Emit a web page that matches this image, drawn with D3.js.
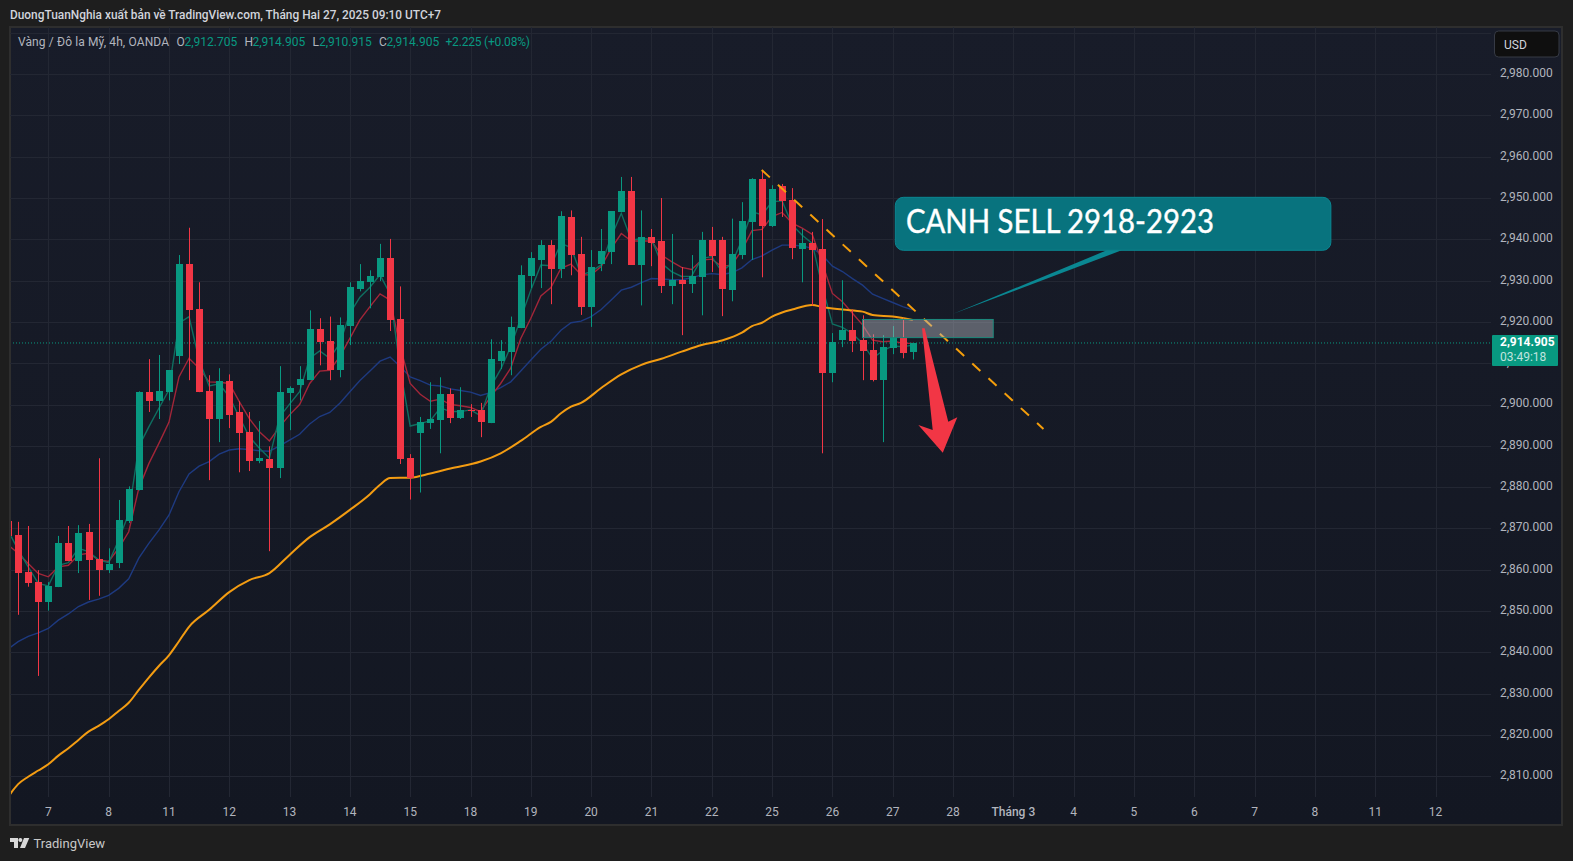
<!DOCTYPE html>
<html>
<head>
<meta charset="utf-8">
<title>XAUUSD 4h</title>
<script src="https://cdn.jsdelivr.net/npm/d3@7/dist/d3.min.js"></script>
<style>
  html, body { margin: 0; padding: 0; background: #1e1e1e; overflow: hidden; }
  text { font-family: Roboto, "Noto Sans", sans-serif; }
</style>
</head>
<body>
<script>
/* Candles, one entry per 4h bar */
const opens = [2871.8,2868.4,2859.4,2857.0,2852.3,2855.8,2866.5,2862.2,2869.1,2862.5,
  2859.9,2861.6,2871.8,2879.2,2903.0,2900.9,2903.0,2911.7,2934.0,2923.2,
  2903.2,2896.5,2905.6,2898.2,2893.3,2886.3,2886.8,2884.6,2902.7,2904.7,
  2905.9,2918.3,2915.3,2908.3,2919.0,2927.9,2929.6,2930.8,2935.4,2920.7,
  2887.0,2893.1,2895.5,2896.3,2902.5,2896.7,2898.8,2898.7,2895.5,2910.5,
  2912.7,2918.5,2931.1,2935.0,2938.6,2932.8,2945.3,2936.4,2923.7,2934.0,
  2936.9,2946.6,2951.7,2933.8,2940.6,2939.6,2928.7,2930.1,2929.1,2930.8,
  2939.8,2939.8,2927.7,2936.2,2944.2,2954.6,2943.2,2952.9,2949.5,2937.7,
  2939.1,2937.6,2907.6,2915.6,2918.0,2915.6,2913.2,2905.9,2913.6,2916.1,2912.705];
const highs = [2873.0,2871.6,2870.6,2859.9,2857.0,2868.2,2870.6,2870.8,2871.1,2887.0,
  2865.2,2876.9,2880.2,2903.2,2911.0,2912.0,2908.3,2936.2,2942.8,2929.6,
  2907.1,2908.8,2907.3,2900.8,2898.2,2896.0,2889.9,2909.3,2904.4,2909.3,
  2922.8,2920.9,2921.3,2921.1,2929.6,2934.0,2932.5,2938.9,2940.1,2928.6,
  2888.0,2897.0,2905.4,2906.6,2903.9,2904.2,2900.1,2900.4,2915.8,2915.6,
  2921.3,2933.7,2936.9,2939.8,2939.8,2946.8,2947.0,2940.6,2937.4,2942.5,
  2946.8,2955.1,2955.1,2947.0,2942.5,2950.0,2941.3,2933.3,2936.2,2941.8,
  2943.0,2940.6,2945.0,2949.0,2954.8,2956.8,2953.1,2953.4,2952.4,2942.5,
  2941.8,2944.9,2917.3,2930.1,2923.0,2921.6,2917.0,2916.8,2919.0,2920.9,2914.905];
const lows = [2866.5,2849.1,2855.9,2834.3,2850.1,2855.8,2862.1,2859.2,2852.7,2853.7,
  2859.2,2860.4,2871.3,2879.2,2898.2,2896.5,2901.0,2909.8,2905.9,2903.0,
  2881.7,2890.9,2894.3,2883.6,2883.9,2885.8,2864.5,2882.2,2893.8,2901.0,
  2905.9,2909.5,2905.9,2906.6,2914.4,2927.4,2923.3,2929.9,2917.8,2885.6,
  2877.0,2878.7,2894.1,2888.2,2895.5,2896.5,2897.0,2892.1,2895.5,2908.6,
  2907.1,2918.5,2928.2,2928.2,2924.3,2930.6,2931.3,2921.7,2918.8,2932.3,
  2934.0,2946.6,2933.8,2924.0,2933.5,2927.0,2924.3,2916.8,2927.0,2921.6,
  2932.1,2921.4,2925.0,2935.2,2935.0,2930.8,2943.0,2945.4,2935.2,2929.6,
  2924.0,2888.2,2905.4,2913.9,2912.7,2905.9,2905.6,2890.9,2912.2,2911.2,2910.915];
const closes = [2868.2,2859.3,2856.9,2852.3,2856.0,2866.5,2862.1,2868.9,2862.3,2859.9,
  2861.3,2872.0,2879.5,2903.0,2900.9,2903.2,2908.3,2934.0,2922.9,2903.0,
  2896.5,2905.6,2897.5,2893.1,2886.3,2887.0,2884.6,2903.0,2903.9,2906.1,
  2918.3,2915.1,2908.3,2919.3,2928.4,2929.9,2931.1,2935.4,2920.5,2886.8,
  2882.1,2895.8,2896.5,2902.5,2896.7,2898.7,2898.5,2895.8,2911.0,2912.9,
  2918.8,2931.3,2935.4,2938.6,2932.8,2945.6,2936.2,2923.7,2933.3,2937.2,
  2946.8,2951.7,2933.8,2940.6,2939.1,2928.7,2930.1,2929.1,2931.1,2939.8,
  2936.0,2927.9,2936.4,2944.5,2954.6,2943.2,2952.1,2949.2,2937.9,2939.1,
  2937.4,2907.6,2915.1,2918.0,2915.3,2912.9,2905.9,2913.9,2916.2,2912.4,2914.905];

const tealMa = [2869.5,2864.8,2860.7,2856.7,2856.1,2861.1,2861.7,2865.2,2864.4,2862.4,
  2861.7,2867.2,2873.6,2889.8,2894.6,2899.1,2903.5,2919.7,2921.3,2910.8,
  2904.5,2905.0,2901.9,2897.0,2892.2,2889.4,2887.0,2897.0,2900.1,2903.1,
  2911.2,2913.0,2911.2,2914.8,2922.1,2926.0,2928.4,2931.4,2926.8,2908.8,
  2894.8,2895.4,2896.1,2899.2,2898.3,2898.3,2898.7,2897.3,2904.3,2908.5,
  2914.0,2920.9,2927.7,2933.8,2933.6,2939.0,2938.0,2931.4,2932.2,2933.8,
  2940.6,2946.3,2939.8,2940.2,2940.0,2934.2,2932.2,2931.0,2931.1,2935.4,
  2935.8,2932.2,2934.2,2939.8,2946.7,2945.9,2949.1,2949.3,2943.5,2941.0,
  2939.0,2928.5,2919.5,2918.7,2917.2,2914.8,2911.2,2913.0,2914.2,2914.0,2914.4];
const redMa = [2866.0,2864.0,2861.5,2859.1,2858.3,2860.7,2861.1,2863.6,2864.0,2862.4,
  2862.0,2865.2,2869.2,2879.7,2885.7,2890.6,2895.7,2906.7,2911.2,2908.8,
  2905.5,2905.4,2905.1,2900.7,2896.6,2893.4,2891.2,2894.6,2897.5,2900.0,
  2905.1,2908.1,2908.3,2911.6,2916.0,2920.5,2923.7,2926.8,2925.3,2914.0,
  2905.1,2902.5,2900.8,2901.3,2900.0,2899.7,2899.3,2898.3,2901.9,2905.1,
  2908.8,2916.0,2920.9,2926.3,2928.3,2933.0,2934.0,2931.4,2931.4,2933.4,
  2937.8,2941.4,2939.6,2939.6,2939.6,2936.2,2934.6,2933.2,2932.7,2935.0,
  2935.2,2933.4,2933.8,2937.4,2942.1,2942.4,2945.5,2946.5,2943.9,2942.7,
  2941.2,2934.2,2926.9,2924.9,2922.1,2919.3,2915.6,2915.2,2915.4,2914.8,2914.8];
const blueMa = [2840.8,2842.6,2843.9,2844.7,2845.8,2847.8,2849.3,2851.1,2852.2,2852.9,
  2853.8,2855.5,2857.8,2862.8,2866.4,2869.6,2873.2,2878.9,2883.2,2885.1,
  2886.2,2888.0,2889.0,2889.3,2889.1,2888.8,2888.7,2890.0,2891.4,2892.8,
  2895.3,2897.1,2898.1,2900.3,2903.1,2905.8,2908.1,2910.5,2911.5,2909.2,
  2906.7,2905.8,2904.7,2904.5,2903.8,2903.4,2903.0,2902.2,2902.9,2904.1,
  2905.5,2908.1,2910.8,2913.4,2915.3,2918.0,2919.8,2920.2,2921.3,2923.0,
  2925.3,2927.7,2928.4,2929.5,2930.5,2930.4,2930.2,2930.2,2930.7,2931.4,
  2931.7,2931.5,2931.9,2933.1,2935.1,2936.0,2937.4,2938.6,2938.6,2938.4,
  2937.8,2936.2,2933.5,2932.2,2930.5,2928.9,2926.7,2925.7,2924.7,2923.7,2922.9];
/* Slow average, read at these bars */
const orangeBars = [0,1,2,3,4,5,6,7,8,9,10,11,12,13,14,15,16,17,18,20,22,24,26,28,30,32,34,36,37,38,40,42,44,47,49,51,53,54,55,56,57,
  59,61,63,65,67,69,71,73,74,75,76,77,78,80,81,83,85,86,88,90];
const orangeMa = [2805,2808.1,2809.9,2811.4,2812.9,2815,2816.8,2818.8,2820.8,2822.2,2823.8,2825.8,2827.8,2830.9,2833.9,2836.7,2839.3,2842.7,
  2846.2,2850.3,2854.6,2857.5,2859.2,2863.6,2867.9,2871,
  2874.5,2878.3,2880.6,2882.2,2882.3,2883.3,2884.5,2886.2,2888.2,2891.2,2894.6,2895.8,2897.9,2899.5,2900.4,
  2904,2907.3,2909.6,2911.1,2912.8,2914.4,2915.5,2917.4,2919,2919.8,2921.3,2922.3,2923,2924.1,2923.6,2923,2922.5,2921.7,2921.3,2920.5];

/* Axis labels */
const dayBars = [4,10,16,22,28,34,40,46,52,58,64,70,76,82,88,94,100,106,112,118,124,130,136,142];
const dayLabels = ["7","8","11","12","13","14","15","18","19","20","21","22","25","26","27","28","Tháng 3","4","5","6","7","8","11","12"];
const priceTicks = [2980,2970,2960,2950,2940,2930,2920,2910,2900,2890,2880,2870,2860,2850,2840,2830,2820,2810];

/* Last bar */
const lastPrice = 2914.905;
const countdown = "03:49:18";

/* Chart drawings, in bar / price */
const trendBars = [74.97, 103];
const trendPrices = [2956.8, 2894.1];
const zoneBars = [85, 98];
const zonePrices = [2920.6, 2916.2];
const arrowBars = [90.92,91.18,93.53,94.43,92.98,90.55,91.98];
const arrowPrices = [2918.45,2918.45,2895.84,2896.9,2888.33,2895.04,2893.83];
const calloutBars = [88.26, 131.59];
const calloutPrices = [2950.17, 2937.34];
const tailBars = [109.29, 110.78, 93.97];
const tailPrices = [2937.34, 2937.34, 2921.9];

/* Constants */
const w = 1573, h = 861;
const paneLeft = 10, paneTop = 27, paneRight = 1562, paneBottom = 825;
const plotRight = 1491, plotBottom = 797;
const green = "#089981", red = "#f23645", axisText = "#b2b5be", gridColor = "#232733";

const svg = d3.select("body").append("svg")
  .attr("width", w).attr("height", h)
  .style("display", "block");

const defs = svg.append("defs");
const grad = defs.append("linearGradient")
  .attr("id", "paneBg").attr("x1", 0).attr("y1", 0).attr("x2", 0).attr("y2", 1);
grad.append("stop").attr("offset", "0%").attr("stop-color", "#181c29");
grad.append("stop").attr("offset", "100%").attr("stop-color", "#131722");
defs.append("clipPath").attr("id", "plotClip").append("rect")
  .attr("x", paneLeft + 1).attr("y", paneTop).attr("width", plotRight - paneLeft - 1).attr("height", plotBottom - paneTop);

/* Pane */
svg.append("rect")
  .attr("x", paneLeft).attr("y", paneTop)
  .attr("width", paneRight - paneLeft).attr("height", paneBottom - paneTop)
  .attr("fill", "url(#paneBg)")
  .attr("stroke", "#2e2e2e").attr("stroke-width", 2);

/* Scales */
const xScale = d3.scaleLinear().domain([0, 90]).range([8.1, 912.8]);
const yScale = d3.scaleLinear().domain([2980, 2810]).range([74.1, 776.3]);

/* Grid */
svg.append("g")
  .attr("transform", "translate(0," + plotBottom + ")")
  .call(d3.axisBottom(xScale).tickValues(dayBars).tickSize(-(plotBottom - paneTop)).tickFormat(""))
  .call(g => g.select(".domain").remove())
  .call(g => g.selectAll("line").attr("stroke", gridColor).attr("shape-rendering", "crispEdges"));

svg.append("g")
  .attr("transform", "translate(" + plotRight + ",0)")
  .call(d3.axisLeft(yScale).tickValues([2990].concat(priceTicks)).tickSize(plotRight - paneLeft).tickFormat(""))
  .call(g => g.select(".domain").remove())
  .call(g => g.selectAll("line").attr("stroke", gridColor).attr("shape-rendering", "crispEdges"));

/* Axes */
svg.append("g")
  .attr("transform", "translate(-0.5," + plotBottom + ")")
  .call(d3.axisBottom(xScale).tickValues(dayBars).tickSize(0).tickPadding(10)
    .tickFormat(d => dayLabels[dayBars.indexOf(d)]))
  .call(g => g.select(".domain").remove())
  .call(g => g.selectAll("text")
    .attr("fill", axisText).attr("font-size", 12)
    .style("font-family", "Roboto, sans-serif")
    .attr("font-weight", d => d === 100 ? 500 : 400));

svg.append("g")
  .attr("transform", "translate(1500,0)")
  .call(d3.axisRight(yScale).tickValues(priceTicks).tickSize(0).tickPadding(0)
    .tickFormat(d3.format(",.3f")))
  .call(g => g.select(".domain").remove())
  .call(g => g.selectAll("text")
    .attr("fill", axisText).attr("font-size", 12).attr("dy", "0.2em")
    .style("font-family", "Roboto, sans-serif"));

const plot = svg.append("g").attr("clip-path", "url(#plotClip)");

/* Last price line */
plot.append("line")
  .attr("x1", paneLeft).attr("x2", plotRight)
  .attr("y1", yScale(lastPrice)).attr("y2", yScale(lastPrice))
  .attr("stroke", green).attr("stroke-width", 1).attr("stroke-dasharray", "1 2");

/* Moving averages */
const maLine = d3.line().x(d => xScale(d[0])).y(d => yScale(d[1]));
const slowLine = d3.line().x(d => xScale(d[0])).y(d => yScale(d[1])).curve(d3.curveMonotoneX);
const byBar = arr => arr.map((v, i) => [i, v]);

plot.append("path").datum(byBar(blueMa)).attr("d", maLine)
  .attr("fill", "none").attr("stroke", "#1e3a80").attr("stroke-width", 1.4);
plot.append("path").datum(byBar(redMa)).attr("d", maLine)
  .attr("fill", "none").attr("stroke", "#a32639").attr("stroke-width", 1.4);
plot.append("path").datum(byBar(tealMa)).attr("d", maLine)
  .attr("fill", "none").attr("stroke", "#0f6e60").attr("stroke-width", 1.4);
plot.append("path").datum(orangeBars.map((b, i) => [b, orangeMa[i]])).attr("d", slowLine)
  .attr("fill", "none").attr("stroke", "#f39c12").attr("stroke-width", 2);

/* Candles */
const bars = d3.range(opens.length);
const barColor = i => closes[i] >= opens[i] ? green : red;

plot.selectAll(".wick").data(bars).enter().append("line")
  .attr("class", "wick")
  .attr("x1", i => Math.round(xScale(i)) + 0.5).attr("x2", i => Math.round(xScale(i)) + 0.5)
  .attr("y1", i => yScale(highs[i])).attr("y2", i => yScale(lows[i]))
  .attr("stroke", barColor).attr("stroke-width", 1);

plot.selectAll(".body").data(bars).enter().append("rect")
  .attr("class", "body")
  .attr("x", i => Math.round(xScale(i)) - 3).attr("width", 7)
  .attr("y", i => yScale(Math.max(opens[i], closes[i])))
  .attr("height", i => Math.max(1, Math.abs(yScale(opens[i]) - yScale(closes[i]))))
  .attr("fill", barColor)
  .attr("shape-rendering", "crispEdges");

/* Trend line */
plot.append("line")
  .attr("x1", xScale(trendBars[0])).attr("y1", yScale(trendPrices[0]))
  .attr("x2", xScale(trendBars[1])).attr("y2", yScale(trendPrices[1]))
  .attr("stroke", "#f59e0b").attr("stroke-width", 2).attr("stroke-dasharray", "11 11");

/* Sell zone */
plot.append("rect")
  .attr("x", xScale(zoneBars[0])).attr("width", xScale(zoneBars[1]) - xScale(zoneBars[0]))
  .attr("y", yScale(zonePrices[0])).attr("height", yScale(zonePrices[1]) - yScale(zonePrices[0]))
  .attr("fill", "rgba(178,181,190,0.45)")
  .attr("stroke", "#1c8a7d").attr("stroke-width", 1);

/* Arrow */
plot.append("polygon")
  .attr("points", arrowBars.map((b, i) => xScale(b) + "," + yScale(arrowPrices[i])).join(" "))
  .attr("fill", red);

/* Callout */
plot.append("polygon")
  .attr("points", tailBars.map((b, i) => xScale(b) + "," + yScale(tailPrices[i])).join(" "))
  .attr("fill", "#0a8792");
plot.append("rect")
  .attr("x", xScale(calloutBars[0])).attr("width", xScale(calloutBars[1]) - xScale(calloutBars[0]))
  .attr("y", yScale(calloutPrices[0])).attr("height", yScale(calloutPrices[1]) - yScale(calloutPrices[0]))
  .attr("rx", 8)
  .attr("fill", "#08737e").attr("stroke", "#0a8792").attr("stroke-width", 1);
plot.append("text")
  .attr("x", xScale(89.32)).attr("y", yScale(2941.6))
  .attr("fill", "#ffffff").attr("stroke", "#ffffff").attr("stroke-width", 0.4).attr("font-size", 32)
  .attr("textLength", 308).attr("lengthAdjust", "spacingAndGlyphs")
  .style("font-family", "Lato, sans-serif")
  .text("CANH SELL 2918-2923");

/* Header and legend */
svg.append("text").attr("x", 10).attr("y", 19)
  .attr("fill", "#d1d4dc").attr("font-size", 12).attr("font-weight", 500)
  .attr("textLength", 431).attr("lengthAdjust", "spacingAndGlyphs")
  .text("DuongTuanNghia xuất bản về TradingView.com, Tháng Hai 27, 2025 09:10 UTC+7");

const legendParts = [
  { x: 18, t: "Vàng / Đô la Mỹ, 4h, OANDA", c: axisText, len: 151 },
  { x: 176.5, t: "O", c: axisText }, { x: 184.5, t: "2,912.705", c: green },
  { x: 244.5, t: "H", c: axisText }, { x: 252.5, t: "2,914.905", c: green },
  { x: 312.5, t: "L", c: axisText }, { x: 319, t: "2,910.915", c: green },
  { x: 379, t: "C", c: axisText }, { x: 386.5, t: "2,914.905", c: green },
  { x: 445.5, t: "+2.225 (+0.08%)", c: green, len: 84.5 }
];
svg.selectAll(".legend").data(legendParts).enter().append("text")
  .attr("class", "legend")
  .attr("x", d => d.x).attr("y", 46)
  .attr("fill", d => d.c).attr("font-size", 12)
  .attr("textLength", d => d.len || null)
  .text(d => d.t);

/* USD button */
svg.append("rect").attr("x", 1494.5).attr("y", 31).attr("width", 64.5).attr("height", 26).attr("rx", 4)
  .attr("fill", "#0f0f0f").attr("stroke", "#363a45");
svg.append("text").attr("x", 1504).attr("y", 48.5)
  .attr("fill", "#d1d4dc").attr("font-size", 12).text("USD");

/* Last price label */
svg.append("rect").attr("x", 1492).attr("y", yScale(lastPrice) - 8).attr("width", 66).attr("height", 31).attr("rx", 1)
  .attr("fill", green);
svg.append("text").attr("x", 1500).attr("y", yScale(lastPrice) + 3.5)
  .attr("fill", "#ffffff").attr("font-size", 12).attr("font-weight", 700).text(d3.format(",.3f")(lastPrice));
svg.append("text").attr("x", 1500).attr("y", yScale(lastPrice) + 18)
  .attr("fill", "rgba(255,255,255,0.75)").attr("font-size", 12).text(countdown);

/* Footer logo */
svg.append("path")
  .attr("d", "M10 838h8v10h-4v-6h-4zM20.3 838a2 2 0 1 0 0.1 0zM24 838h5.3l-4.3 10h-5z")
  .attr("fill", "#d8d8d8");
svg.append("text").attr("x", 33.5).attr("y", 848)
  .attr("fill", "#c8c8c8").attr("font-size", 13).text("TradingView");
</script>
</body>
</html>
